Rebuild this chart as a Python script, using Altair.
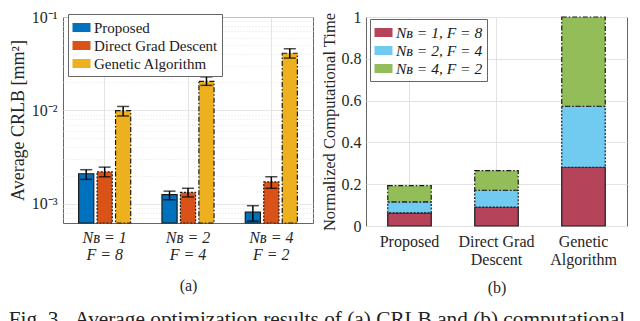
import altair as alt
import pandas as pd

# ---------------- data ----------------
groups = ["Nʙ = 1|F = 8", "Nʙ = 2|F = 4", "Nʙ = 4|F = 2"]
methods = ["Proposed", "Direct Grad Descent", "Genetic Algorithm"]

crlb_proposed = [2.09e-3, 1.25e-3, 8.1e-4]
crlb_dgd = [2.19e-3, 1.32e-3, 1.71e-3]
crlb_ga = [9.9e-3, 2.04e-2, 4.09e-2]

lo_proposed = [1.82e-3, 1.10e-3, 6.5e-4]
hi_proposed = [2.31e-3, 1.36e-3, 9.5e-4]
lo_dgd = [1.94e-3, 1.18e-3, 1.46e-3]
hi_dgd = [2.46e-3, 1.46e-3, 1.94e-3]
lo_ga = [8.7e-3, 1.85e-2, 3.63e-2]
hi_ga = [1.10e-2, 2.28e-2, 4.57e-2]

series_b = ["Nʙ = 1, F = 8", "Nʙ = 2, F = 4", "Nʙ = 4, F = 2"]
time_proposed = [0.063, 0.052, 0.078]
time_dgd = [0.090, 0.081, 0.094]
time_ga = [0.281, 0.292, 0.427]

y_ticks_a = [7e-4, 8e-4, 9e-4, 1e-3, 2e-3, 3e-3, 4e-3, 5e-3, 6e-3, 7e-3, 8e-3, 9e-3,
             1e-2, 2e-2, 3e-2, 4e-2, 5e-2, 6e-2, 7e-2, 8e-2, 9e-2, 1e-1]
y_min_a = 6.2e-4

NB = "\u00a0"
caption_words = ["Fig.", "3.", "Average", "optimization", "results", "of", "(a)", "CRLB",
                 "and", "(b)", "computational"]
caption_gaps = [1, 2, 1, 1, 1, 1, 1, 1, 1, 1]
caption = caption_words[0] + "".join(NB * g + w for g, w in zip(caption_gaps, caption_words[1:]))

# ---------------- tables ----------------
rows_a = []
for m, vals, lo, hi in [(methods[0], crlb_proposed, lo_proposed, hi_proposed),
                        (methods[1], crlb_dgd, lo_dgd, hi_dgd),
                        (methods[2], crlb_ga, lo_ga, hi_ga)]:
    for g, v, l, h in zip(groups, vals, lo, hi):
        rows_a.append({"group": g, "method": m, "value": v, "lo": l, "hi": h})
df_a = pd.DataFrame(rows_a)

rows_b = []
for m, vals in [(methods[0], time_proposed), (methods[1], time_dgd), (methods[2], time_ga)]:
    for i, (s, v) in enumerate(zip(series_b, vals)):
        rows_b.append({"method": m, "series": s, "value": v, "order": i})
df_b = pd.DataFrame(rows_b)

FONT = "Liberation Serif"
SYM = "M-1,-0.5H1V0.5H-1Z"
dash_range = [[1, 0], [2, 1.5], [5, 2, 1.5, 2]]

decade_test = "abs(log(datum.value)/LN10 - round(log(datum.value)/LN10)) < 0.01"

# ---------------- panel (a) ----------------
xa = alt.X("group:N", sort=groups,
           scale=alt.Scale(paddingInner=0.375, paddingOuter=0.1875),
           axis=alt.Axis(title="(a)", labelExpr="split(datum.label, '|')",
                         labelFont=FONT, titleFont=FONT,
                         labelFontStyle="italic", labelFontSize=16, labelLineHeight=17,
                         labelPadding=6, labelAngle=0, titleFontSize=16, titleFontWeight="normal",
                         titlePadding=15, grid=True, bandPosition=0.5, ticks=False, domain=False,
                         gridColor="#e3e3e3"))
xoff = alt.XOffset("method:N", sort=methods, scale=alt.Scale(paddingInner=0.18, paddingOuter=0))

ya_scale = alt.Scale(type="log", domain=[y_min_a, 0.1])

legend_a = alt.Legend(title=None, orient="none", legendX=5, legendY=-3,
                      labelFont=FONT, labelFontSize=15)

bars_a = alt.Chart(df_a).mark_bar(stroke="#1a1a1a", strokeWidth=1.2).encode(
    x=xa,
    xOffset=xoff,
    y=alt.Y("value:Q", scale=ya_scale,
            axis=alt.Axis(title="Average CRLB [mm²]", values=y_ticks_a,
                          labelFont=FONT, titleFont=FONT,
                          labelExpr=decade_test + " ? ('10' + (round(log(datum.value)/LN10) == -1 ? '⁻¹' : round(log(datum.value)/LN10) == -2 ? '⁻²' : '⁻³')) : ''",
                          labelFontSize=16, labelPadding=6, titleFontSize=18, titleFontWeight="normal",
                          titlePadding=4, ticks=False, domain=False,
                          gridDash={"condition": {"test": decade_test, "value": [1, 0]}, "value": [1, 2]},
                          gridColor={"condition": {"test": decade_test, "value": "#dedede"}, "value": "#e6e6e6"})),
    y2=alt.datum(y_min_a),
    color=alt.Color("method:N", sort=methods,
                    scale=alt.Scale(domain=methods, range=["#0072BD", "#D95319", "#EDB120"]),
                    legend=legend_a),
    strokeDash=alt.StrokeDash("method:N", sort=methods,
                              scale=alt.Scale(domain=methods, range=dash_range),
                              legend=legend_a),
)

err_rule = alt.Chart(df_a).mark_rule(color="black", strokeWidth=1.5).encode(
    x=alt.X("group:N", sort=groups),
    xOffset=alt.XOffset("method:N", sort=methods),
    y=alt.Y("lo:Q", scale=ya_scale),
    y2="hi:Q",
)
err_lo = alt.Chart(df_a).mark_tick(color="black", thickness=1.5, size=12).encode(
    x=alt.X("group:N", sort=groups),
    xOffset=alt.XOffset("method:N", sort=methods),
    y=alt.Y("lo:Q", scale=ya_scale),
)
err_hi = alt.Chart(df_a).mark_tick(color="black", thickness=1.5, size=12).encode(
    x=alt.X("group:N", sort=groups),
    xOffset=alt.XOffset("method:N", sort=methods),
    y=alt.Y("hi:Q", scale=ya_scale),
)

panel_a = alt.layer(bars_a, err_rule, err_lo, err_hi).properties(width=250, height=206)

# ---------------- panel (b) ----------------
legend_b = alt.Legend(title=None, orient="none", legendX=4, legendY=2,
                      labelFont=FONT, labelFontSize=15.5, labelFontStyle="italic")

bars_b = alt.Chart(df_b).mark_bar(stroke="#1a1a1a", strokeWidth=1.2).encode(
    x=alt.X("method:N", sort=methods,
            scale=alt.Scale(paddingInner=0.5, paddingOuter=0.25),
            axis=alt.Axis(title="(b)",
                          labelExpr="datum.value == 'Direct Grad Descent' ? ['Direct Grad', 'Descent'] : datum.value == 'Genetic Algorithm' ? ['Genetic', 'Algorithm'] : datum.label",
                          labelFont=FONT, titleFont=FONT,
                          labelFontSize=16, labelLineHeight=18, labelPadding=7, labelAngle=0,
                          titleFontSize=16, titleFontWeight="normal", titlePadding=12,
                          grid=True, bandPosition=0.5, ticks=False, domain=False, gridColor="#e3e3e3")),
    y=alt.Y("value:Q", stack="zero", scale=alt.Scale(domain=[0, 1]),
            axis=alt.Axis(title="Normalized Computational Time", values=[0, 0.2, 0.4, 0.6, 0.8, 1],
                          labelFont=FONT, titleFont=FONT,
                          format="~g", labelFontSize=16, labelPadding=5, titleFontSize=16.5,
                          titleFontWeight="normal", titlePadding=4, ticks=False, domain=False,
                          gridColor="#e3e3e3")),
    order=alt.Order("order:Q", sort="ascending"),
    color=alt.Color("series:N", sort=series_b,
                    scale=alt.Scale(domain=series_b, range=["#B54359", "#71CBF1", "#92BD59"]),
                    legend=legend_b),
    strokeDash=alt.StrokeDash("series:N", sort=series_b,
                              scale=alt.Scale(domain=series_b, range=dash_range),
                              legend=legend_b),
)
panel_b = bars_b.properties(width=261, height=209)

chart = alt.hconcat(panel_a, panel_b, spacing=6).resolve_scale(
    color="independent", strokeDash="independent", x="independent", y="independent"
).properties(
    padding=0,
    title=alt.TitleParams(text=caption, orient="bottom", anchor="start", fontSize=21.3,
                          font=FONT, fontWeight="normal", offset=13, color="#222"),
).configure(
    font=FONT,
).configure_view(
    stroke="#666", strokeWidth=1,
).configure_axis(
    labelFont=FONT, titleFont=FONT, labelColor="#262626", titleColor="#262626",
).configure_legend(
    labelFont=FONT, labelColor="#1a1a1a",
    symbolType=SYM, symbolSize=324, symbolStrokeColor="#1a1a1a", symbolStrokeWidth=1,
    symbolOpacity=1,
    strokeColor="#666", fillColor="#ffffff", padding=4, rowPadding=0, labelOffset=3,
    cornerRadius=0,
)

chart.save("out.html", embed_options={"renderer": "svg", "actions": False})
